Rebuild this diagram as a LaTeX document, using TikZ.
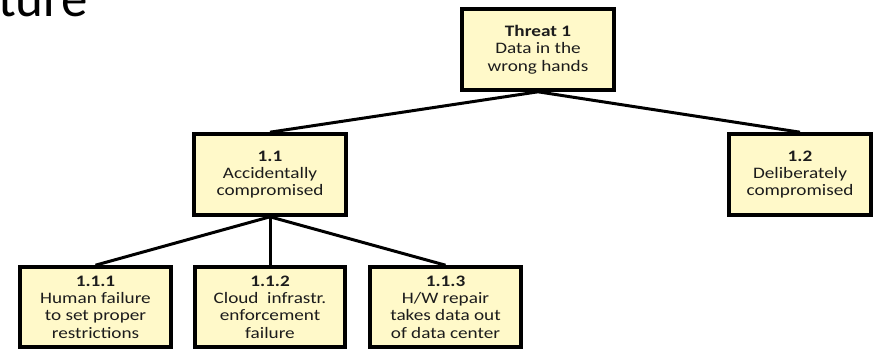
\documentclass[tikz,border=0pt]{standalone}
\usepackage{fontspec}
\setmainfont{Carlito}
\newfontfamily\boxfont{Carlito}[FakeStretch=1.2]
\newfontfamily\titlefont{Carlito}
\definecolor{boxfill}{HTML}{FFF9C9}
\definecolor{boxtext}{HTML}{1C1C1C}
\begin{document}
\begin{tikzpicture}[x=1pt,y=-1pt,
  treebox/.style={draw=black, line width=3.6pt, fill=boxfill, inner sep=0pt,
    align=center, text=boxtext,
    font=\boxfont\fontsize{16}{17.3}\selectfont},
  link/.style={draw=black, line width=3pt}]
\useasboundingbox (0,0) rectangle (882,350);
\fill[white] (0,0) rectangle (882,350);
% cut-off slide title
\node[anchor=base west, inner sep=0pt, font=\titlefont\fontsize{53}{60}\selectfont] (title) at (-2,17) {ture};
% boxes
\node[treebox, minimum width=152pt, minimum height=81pt] (t) at (538,49.5)
  {\textbf{Threat 1}\\Data in the\\wrong hands};
\node[treebox, minimum width=152pt, minimum height=81pt] (a) at (270,174.5)
  {\textbf{1.1}\\Accidentally\\compromised};
\node[treebox, minimum width=142pt, minimum height=81pt] (b) at (800,174.5)
  {\textbf{1.2}\\Deliberately\\compromised};
\node[treebox, minimum width=151pt, minimum height=80pt] (a1) at (95.5,307)
  {\textbf{1.1.1}\\Human failure\\to set proper\\restrictions};
\node[treebox, minimum width=150pt, minimum height=80pt] (a2) at (270,307)
  {\textbf{1.1.2}\\Cloud\ \ infrastr.\\enforcement\\failure};
\node[treebox, minimum width=151pt, minimum height=80pt] (a3) at (445.5,307)
  {\textbf{1.1.3}\\H/W repair\\takes data out\\of data center};
% connectors
\draw[link] (t.south) -- (a.north);
\draw[link] (t.south) -- (b.north);
\draw[link] (a.south) -- (a1.north);
\draw[link] (a.south) -- (a2.north);
\draw[link] (a.south) -- (a3.north);
\end{tikzpicture}
\end{document}
